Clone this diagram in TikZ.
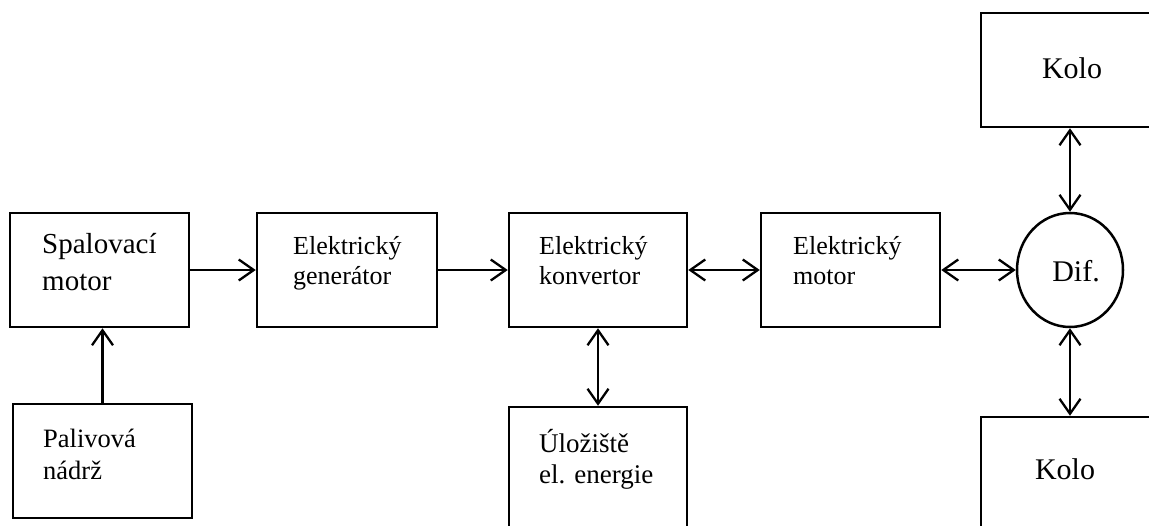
\documentclass[tikz,border=0pt]{standalone}
\usepackage{fontspec}
\setmainfont{Liberation Serif}
\usetikzlibrary{arrows.meta,shapes.geometric}
\begin{document}
\begin{tikzpicture}[x=1pt,y=-1pt,
  blk/.style={draw, line width=2.5pt, rectangle, inner sep=0pt},
  conn/.style={line width=2.3pt, -{Straight Barb[length=15pt,width=21pt,line width=2.3pt]}},
  bconn/.style={line width=2.3pt, {Straight Barb[length=15pt,width=21pt,line width=2.3pt]}-{Straight Barb[length=15pt,width=21pt,line width=2.3pt]}},
  lblbig/.style={anchor=base west, inner sep=0pt, font=\fontsize{29}{37}\selectfont},
  lbl/.style={anchor=base west, inner sep=0pt, font=\fontsize{26}{30}\selectfont},
  lblwheel/.style={anchor=base, inner sep=0pt, font=\fontsize{30}{36}\selectfont}]
\useasboundingbox (0,0) rectangle (1149,525);
\clip (0,0) rectangle (1149,525);
\fill[white] (0,0) rectangle (1149,525);
% boxes
\node[blk, minimum width=179pt, minimum height=114pt] (sm) at (99.5,270) {};
\node[blk, minimum width=179pt, minimum height=114pt] (pn) at (102.5,461) {};
\node[blk, minimum width=180pt, minimum height=114pt] (gen) at (347,270) {};
\node[blk, minimum width=178pt, minimum height=114pt] (konv) at (598,270) {};
\node[blk, minimum width=178pt, minimum height=133pt] (ulo) at (598,473.5) {};
\node[blk, minimum width=179pt, minimum height=114pt] (mot) at (850.5,270) {};
\node[draw, line width=2.5pt, ellipse, inner sep=0pt, minimum width=106pt, minimum height=114pt] (dif) at (1070,270) {};
\node[blk, minimum width=182pt, minimum height=114pt] (k1) at (1072,70) {};
\node[blk, minimum width=182pt, minimum height=133pt] (k2) at (1072,483.5) {};
% labels
\node[lblbig] (tsm) at (42,253) {\vtop{\hbox{Spalovací}\hbox{motor}}};
\node[lbl, font=\fontsize{26.5}{32}\selectfont] (tpn) at (43,447) {\vtop{\hbox{Palivová}\hbox{nádrž}}};
\node[lbl] (tgen) at (293,254) {\vtop{\hbox{Elektrický}\hbox{generátor}}};
\node[lbl] (tkonv) at (539,254) {\vtop{\hbox{Elektrický}\hbox{konvertor}}};
\node[lbl, font=\fontsize{27}{31}\selectfont] (tulo) at (539,452) {\vtop{\hbox{Úložiště}\hbox{el. energie}}};
\node[lbl] (tmot) at (793,254) {\vtop{\hbox{Elektrický}\hbox{motor}}};
\node[lblwheel] (tdif) at (1076,281) {Dif.};
\node[lblwheel] (tk1) at (1072,78) {Kolo};
\node[lblwheel] (tk2) at (1065,479) {Kolo};
% connectors
\draw[conn] (pn.north) -- (pn.north |- sm.south);
\draw[conn] (sm.east) -- (gen.west);
\draw[conn] (gen.east) -- (konv.west);
\draw[bconn] (konv.east) -- (mot.west);
\draw[bconn] (mot.east) -- (dif.west);
\draw[bconn] (konv.south) -- (ulo.north);
\draw[bconn] (dif.north |- k1.south) -- (dif.north);
\draw[bconn] (dif.south) -- (dif.south |- k2.north);
\end{tikzpicture}
\end{document}
